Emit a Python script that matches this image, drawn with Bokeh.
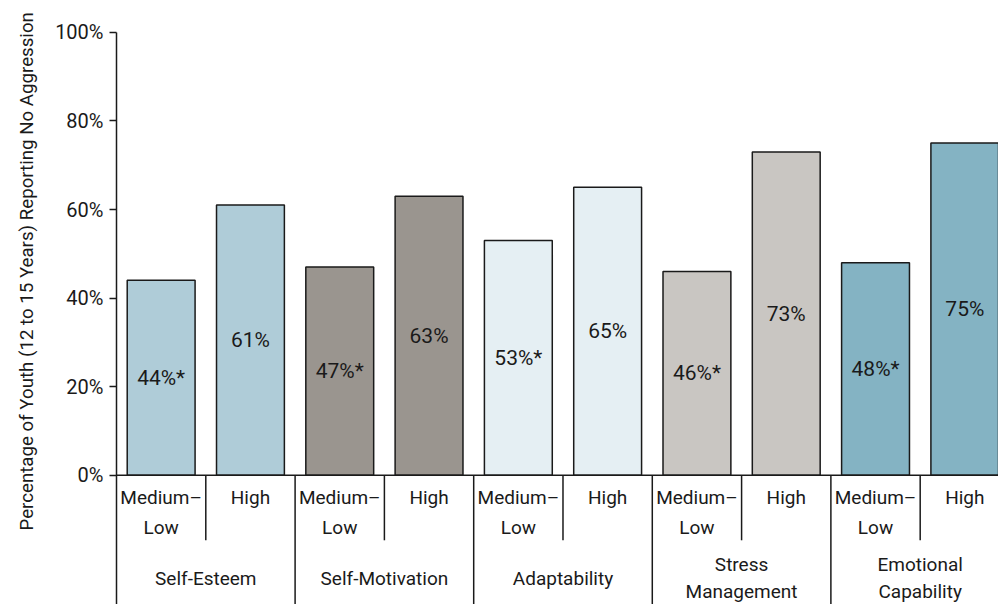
from bokeh.plotting import figure
from bokeh.models import (Range1d, FixedTicker, PrintfTickFormatter, Span,
                          ColumnDataSource, Title)
from bokeh.core.properties import value
from bokeh.embed import file_html
from bokeh.resources import INLINE

# Emotional-intelligence domains and the two score levels within each
group_lines = [["Self-Esteem"], ["Self-Motivation"], ["Adaptability"],
               ["Stress", "Management"], ["Emotional", "Capability"]]
level_lines = [["Medium–", "Low"], ["High"]]

# Percentage of youth reporting no aggression
medium_low = [44, 47, 53, 46, 48]
high = [61, 63, 65, 73, 75]
medium_low_significant = [True, True, True, True, True]

y_ticks = [0, 20, 40, 60, 80, 100]
y_title = "Percentage of Youth (12 to 15 Years) Reporting No Aggression"
group_colors = ["#afccd8", "#9a958f", "#e5eff3", "#c9c6c2", "#84b3c3"]

FONT = "Roboto"
INK = "#1a1a1a"

# one slot per bar, bars centred at i + 0.5
xs, tops, colors, labels = [], [], [], []
for g in range(len(group_lines)):
    for k, (v, star) in enumerate([(medium_low[g], medium_low_significant[g]), (high[g], False)]):
        xs.append(2 * g + k + 0.5)
        tops.append(v)
        colors.append(group_colors[g])
        labels.append(f"{v}%" + ("*" if star else ""))

src = ColumnDataSource(dict(x=xs, top=tops, mid=[t / 2 for t in tops], color=colors, label=labels))

Y_BOTTOM = -29.2
p = figure(width=998, height=604, output_backend="svg", toolbar_location=None,
           x_range=Range1d(0, 9.877), y_range=Range1d(Y_BOTTOM, 107.2),
           x_axis_location=None, min_border_left=116, min_border_right=0,
           min_border_top=0, min_border_bottom=0)
p.outline_line_color = None
p.grid.visible = False
p.background_fill_color = "white"

ax = p.yaxis[0]
ax.bounds = (Y_BOTTOM, 100)
ax.ticker = FixedTicker(ticks=y_ticks)
ax.formatter = PrintfTickFormatter(format="%d%%")
ax.major_tick_in = 0
ax.major_tick_out = 7
ax.minor_tick_line_color = None
ax.axis_line_width = 1.5
ax.major_tick_line_width = 1.5
ax.axis_line_color = INK
ax.major_tick_line_color = INK
ax.major_label_standoff = 6
ax.major_label_text_font = FONT
ax.major_label_text_font_size = "20px"
ax.major_label_text_color = INK

# vertical title, starting a little above the bottom of the chart
p.add_layout(Title(text=y_title, align="left", offset=74, standoff=26,
                   vertical_align="top",
                   text_font=FONT, text_font_size="18.7px", text_font_style="normal",
                   text_color=INK), "left")

p.vbar(x="x", top="top", bottom=0, width=0.76, source=src,
       fill_color="color", line_color=INK, line_width=1.5)
p.text(x="x", y="mid", text="label", source=src, text_align="center",
       text_baseline="middle", text_font=value(FONT), text_font_size="21px",
       text_color=INK)

# baseline and category separators below it
p.add_layout(Span(location=0, dimension="width", line_color=INK, line_width=1.5))
sub_sep = [2 * g + 1 for g in range(len(group_lines))]
grp_sep = [2 * g for g in range(1, len(group_lines))]
p.segment(x0=sub_sep, y0=[0] * len(sub_sep), x1=sub_sep, y1=[-14.7] * len(sub_sep),
          line_color=INK, line_width=1.5)
p.segment(x0=grp_sep, y0=[0] * len(grp_sep), x1=grp_sep, y1=[Y_BOTTOM] * len(grp_sep),
          line_color=INK, line_width=1.5)

# level labels under each bar
lx, ly, lt = [], [], []
for g in range(len(group_lines)):
    for k, lines in enumerate(level_lines):
        for j, line in enumerate(lines):
            lx.append(2 * g + k + 0.5)
            ly.append(-5.0 - 6.7 * j)
            lt.append(line)
# domain labels under each pair
for g, lines in enumerate(group_lines):
    start = -23.3 + 3.05 * (len(lines) - 1)
    for j, line in enumerate(lines):
        lx.append(2 * g + 1)
        ly.append(start - 6.1 * j)
        lt.append(line)
p.text(x=lx, y=ly, text=lt, text_align="center", text_baseline="middle",
       text_font=value(FONT), text_font_size="19px", text_color=INK)

open("out.html", "w").write(file_html(p, INLINE))
